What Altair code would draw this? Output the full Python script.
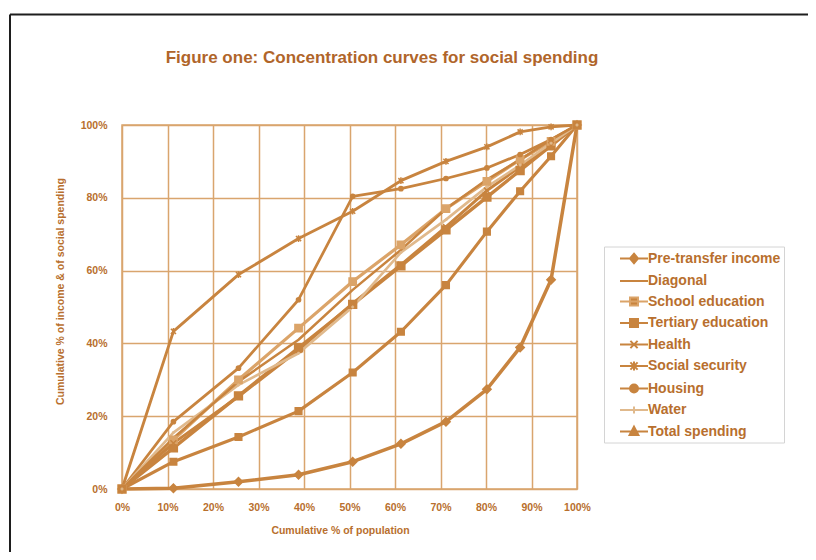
import altair as alt
import pandas as pd

# ---------------- data ----------------
x_pct = [0, 11.3, 25.6, 38.8, 50.7, 61.3, 71.2, 80.2, 87.5, 94.3, 100]

series_names = [
    "Pre-transfer income", "Diagonal", "School education", "Tertiary education",
    "Health", "Social security", "Housing", "Water", "Total spending",
]

pre_transfer = [0, 0.2, 2.0, 3.9, 7.5, 12.4, 18.5, 27.4, 38.9, 57.5, 100]
diagonal = [0, 11.3, 25.6, 38.8, 50.7, 61.3, 71.2, 80.2, 87.5, 94.3, 100]
school_education = [0, 13.5, 30.0, 44.2, 57.0, 67.1, 77.0, 84.5, 90.5, 95.5, 100]
tertiary_education = [0, 7.5, 14.3, 21.4, 32.0, 43.2, 56.0, 70.7, 81.8, 91.4, 100]
health = [0, 12.6, 25.4, 38.2, 51.0, 61.6, 72.0, 82.0, 88.5, 94.5, 100]
social_security = [0, 43.3, 58.9, 68.8, 76.3, 84.7, 90.0, 94.0, 98.1, 99.5, 100]
housing = [0, 18.5, 33.2, 52.0, 80.4, 82.5, 85.3, 88.2, 91.9, 96.0, 100]
water = [0, 15.5, 28.6, 37.3, 50.0, 65.0, 74.0, 83.0, 89.0, 95.0, 100]
total_spending = [0, 14.0, 29.5, 41.0, 54.7, 65.7, 77.0, 85.0, 90.5, 96.0, 100]

tick_values = [0, 10, 20, 30, 40, 50, 60, 70, 80, 90, 100]

all_series = [pre_transfer, diagonal, school_education, tertiary_education,
              health, social_security, housing, water, total_spending]

rows = []
for name, vals in zip(series_names, all_series):
    for i, (xv, yv) in enumerate(zip(x_pct, vals)):
        rows.append({"series": name, "order": i, "x": xv, "y": yv})
df = pd.DataFrame(rows)

# ---------------- styles ----------------
FONT = "Liberation Sans Narrow, Arial Narrow, Liberation Sans, sans-serif"
ORANGE = "#C8843F"
LIGHT = "#DBA469"
PALE = "#E0B98C"
GRID = "#D9A56E"
TEXT = "#B86F2E"
TITLE_C = "#B0652A"

line_colors = [ORANGE, ORANGE, LIGHT, ORANGE, ORANGE, ORANGE, ORANGE, PALE, ORANGE]
line_widths = [3.5, 2.5, 4.5, 3.5, 3.0, 1.8, 1.5, 1.0, 2.0]

XS = "M-1,-1L1,1M-1,1L1,-1"
AST = "M-1,-1L1,1M-1,1L1,-1M0,-1.3V1.3"
PLUS = "M-1,0H1M0,-1V1"
marker_shapes = ["diamond", "square", "square", "square", XS, AST, "circle", PLUS, "triangle-up"]
marker_sizes = [70, 0, 90, 80, 60, 70, 70, 45, 60]

# legend glyphs: a short line with the marker in its middle (centre shifted right)
LINE = "M0.5,0H4"
legend_paths = [
    LINE + "M2.25,-0.6L2.75,0L2.25,0.6L1.75,0Z",
    LINE,
    LINE + "M1.75,-0.5H2.75V0.5H1.75Z",
    LINE + "M1.75,-0.5H2.75V0.5H1.75Z",
    LINE + "M1.8,-0.45L2.7,0.45M1.8,0.45L2.7,-0.45",
    LINE + "M1.8,-0.45L2.7,0.45M1.8,0.45L2.7,-0.45M2.25,-0.55V0.55",
    LINE + "M1.75,0A0.5,0.5 0 1,0 2.75,0A0.5,0.5 0 1,0 1.75,0Z",
    LINE + "M2.25,-0.45V0.45",
    LINE + "M2.25,-0.6L2.8,0.45L1.7,0.45Z",
]

color_scale = alt.Scale(domain=series_names, range=line_colors)

x_enc = alt.X(
    "x:Q",
    scale=alt.Scale(domain=[0, 100], nice=False, zero=False),
    axis=alt.Axis(
        values=tick_values, labelExpr="datum.value + '%'",
        title="Cumulative % of population",
        grid=True, gridColor=GRID, gridWidth=1.5, domain=False, ticks=False,
        labelOverlap=False, labelFlush=False,
        labelPadding=13, labelFont=FONT, labelFontSize=10.5, labelFontWeight="bold",
        labelColor=TEXT, titleFont=FONT, titleFontSize=10.5, titleFontWeight="bold",
        titleColor=TEXT, titleX=218, titleY=41, titleBaseline="middle",
    ),
)
y_enc = alt.Y(
    "y:Q",
    scale=alt.Scale(domain=[0, 100], nice=False, zero=False),
    axis=alt.Axis(
        values=tick_values, labelExpr="datum.value + '%'",
        title="Cumulative % of income & of social spending",
        grid=True, gridColor=GRID, gridWidth=1.5, domain=False, ticks=False,
        labelOverlap=False, labelFlush=False,
        labelPadding=15, labelFont=FONT, labelFontSize=10.5, labelFontWeight="bold",
        labelColor=TEXT, titleFont=FONT, titleFontSize=10.5, titleFontWeight="bold",
        titleColor=TEXT, titleX=-62, titleY=166, titleAngle=270,
        titleBaseline="middle", titleAlign="center",
    ),
)

base = alt.Chart(df)

lines = base.mark_line(strokeJoin="round").encode(
    x=x_enc, y=y_enc,
    color=alt.Color("series:N", scale=color_scale, legend=None),
    strokeWidth=alt.StrokeWidth("series:N", scale=alt.Scale(domain=series_names, range=line_widths), legend=None),
    order="order:Q",
)

points = base.mark_point(filled=True, opacity=1, strokeWidth=1.5).encode(
    x="x:Q", y="y:Q",
    color=alt.Color("series:N", scale=color_scale, legend=None),
    stroke=alt.Stroke("series:N", scale=color_scale, legend=None),
    shape=alt.Shape("series:N", scale=alt.Scale(domain=series_names, range=marker_shapes), legend=None),
    size=alt.Size("series:N", scale=alt.Scale(domain=series_names, range=marker_sizes), legend=None),
)

legend_props = dict(
    title=None, orient="none", legendX=482, legendY=121.5,
    symbolSize=256, symbolStrokeWidth=2, symbolFillColor=ORANGE,
    symbolStrokeColor=ORANGE, symbolOpacity=1,
    labelFont=FONT, labelFontSize=14, labelFontWeight="bold",
    labelColor=TEXT, labelOffset=23, rowPadding=4.5, padding=3,
    strokeColor="#d4d4d4", fillColor="white", labelLimit=300,
)

legend_layer = base.transform_filter("datum.x < 0").mark_point(
    filled=True, color=ORANGE, strokeWidth=2, opacity=1
).encode(
    shape=alt.Shape(
        "series:N",
        scale=alt.Scale(domain=series_names, range=legend_paths),
        legend=alt.Legend(**legend_props),
    ),
    stroke=alt.Stroke(
        "series:N",
        scale=alt.Scale(domain=series_names, range=line_colors),
        legend=alt.Legend(**legend_props),
    ),
)

frame_df = pd.DataFrame({"k": [0]})
frame_left = alt.Chart(frame_df).mark_rule(color="#1e1e1e", strokeWidth=2).encode(
    x=alt.value(-112), y=alt.value(-110.5), y2=alt.value(440)
)
frame_top = alt.Chart(frame_df).mark_rule(color="#1e1e1e", strokeWidth=2).encode(
    x=alt.value(-112), x2=alt.value(700), y=alt.value(-110.5)
)

title_df = pd.DataFrame({"t": ["Figure one: Concentration curves for social spending"]})
title_text = alt.Chart(title_df).mark_text(
    font=FONT, fontSize=17, fontWeight="bold", color=TITLE_C,
    align="center", baseline="middle",
).encode(x=alt.value(260), y=alt.value(-67), text="t:N")

chart = alt.layer(
    lines, points, legend_layer, frame_left, frame_top, title_text
).resolve_scale(shape="independent", stroke="independent").properties(
    width=455, height=364,
    autosize=alt.AutoSizeParams(type="none"),
    padding={"left": 114, "top": 117, "right": 231, "bottom": 63},
    background="white",
).configure_view(stroke=GRID, strokeWidth=1.5)

chart.save("out.html", embed_options={"renderer": "svg", "actions": False})
